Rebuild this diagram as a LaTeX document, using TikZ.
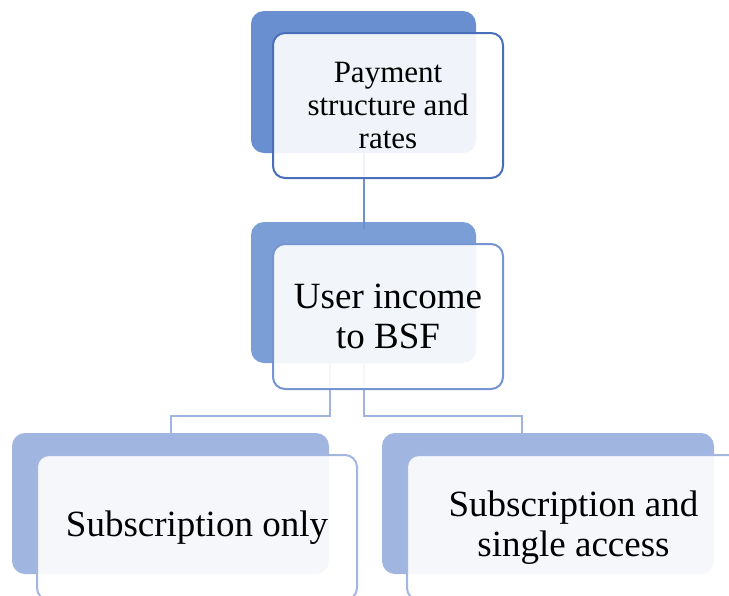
\documentclass[tikz,border=0pt]{standalone}
\usepackage{fontspec}
\setmainfont{Liberation Serif}
\newfontfamily\labelfont{Liberation Serif}
\definecolor{backA}{HTML}{6A8FD0}
\definecolor{backB}{HTML}{7B9ED6}
\definecolor{backC}{HTML}{A0B6E0}
\definecolor{edgeA}{HTML}{4A6FBA}
\definecolor{edgeB}{HTML}{7494D4}
\definecolor{edgeC}{HTML}{A2B6DF}
\definecolor{lineA}{HTML}{6F90D0}
\definecolor{lineB}{HTML}{9FB4E0}
\tikzset{
  backbox/.style={rectangle, rounded corners=13pt, draw=none, inner sep=0pt},
  frontbox/.style={rectangle, rounded corners=12pt, line width=2pt,
    fill=white, fill opacity=0.9, text opacity=1, inner sep=0pt, align=center},
  bigtext/.style={font=\labelfont\fontsize{37}{40}\selectfont},
  smalltext/.style={font=\labelfont\fontsize{31}{33}\selectfont},
  conn/.style={line width=2pt}
}
\begin{document}
\begin{tikzpicture}[x=1pt,y=-1pt]
\useasboundingbox (0,0) rectangle (729,595);
\clip (0,0) rectangle (729,595);
% shadow boxes behind each entry
\node[backbox, fill=backA, minimum width=225pt, minimum height=142pt] (b1) at (363.5,82) {};
\node[backbox, fill=backB, minimum width=225pt, minimum height=141pt] (b2) at (363.5,292.5) {};
\node[backbox, fill=backC, minimum width=317pt, minimum height=141pt] (b3) at (170.5,503.5) {};
\node[backbox, fill=backC, minimum width=332pt, minimum height=141pt] (b4) at (548,503.5) {};
% connectors
\draw[conn, lineA] (b1.south) -- ([yshift=-7pt]b2.north);
\draw[conn, lineB] ([xshift=-34pt]b2.south) -- ++(0,53) -| ([yshift=-6pt]b3.north);
\draw[conn, lineB] (b2.south) -- ++(0,53) -| ([xshift=-26pt,yshift=-6pt]b4.north);
% front boxes with labels
\node[frontbox, draw=edgeA, smalltext, minimum width=230pt, minimum height=145pt] (f1) at (388,105.5)
  {Payment\\structure and\\rates};
\node[frontbox, draw=edgeB, bigtext, minimum width=230pt, minimum height=145pt] (f2) at (388,316.5)
  {User income\\to BSF};
\node[frontbox, draw=edgeC, bigtext, minimum width=320pt, minimum height=145pt] (f3) at (197,527.5)
  {Subscription only};
\node[frontbox, draw=edgeC, bigtext, minimum width=333pt, minimum height=145pt] (f4) at (573.5,527.5)
  {Subscription and\\single access};
\end{tikzpicture}
\end{document}
